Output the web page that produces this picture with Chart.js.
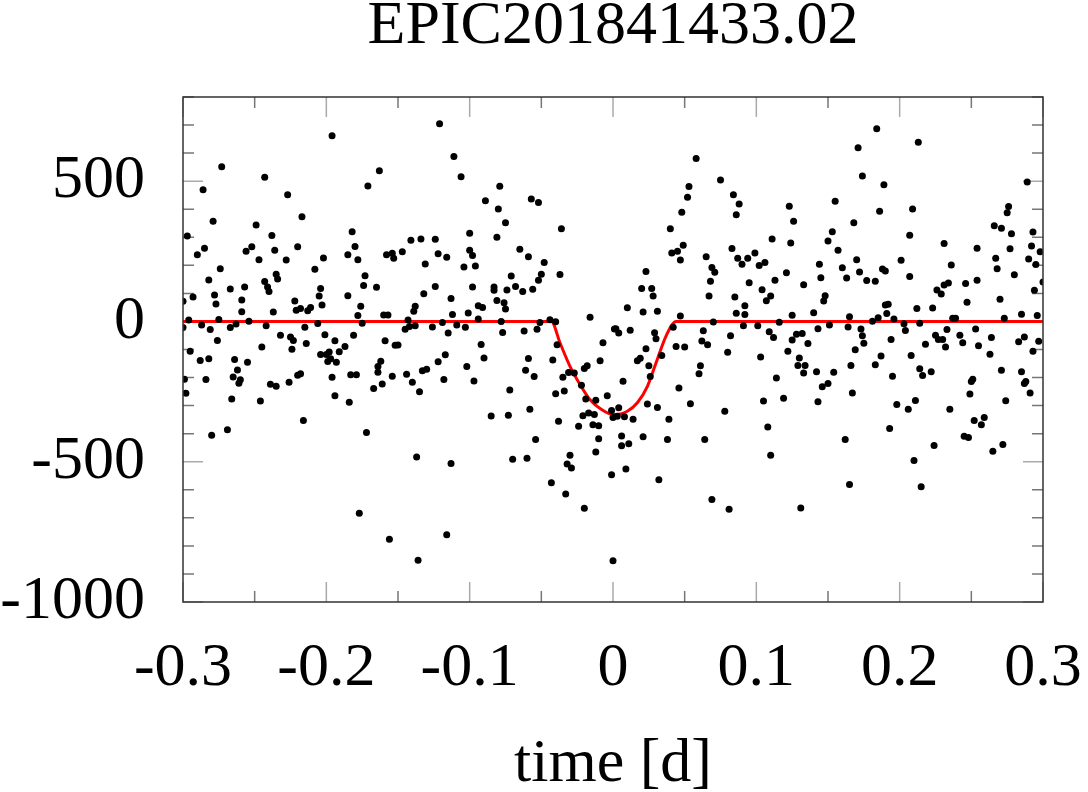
<!DOCTYPE html>
<html>
<head>
<meta charset="utf-8">
<script src="https://cdn.jsdelivr.net/npm/chart.js@4.4.1/dist/chart.umd.min.js"></script>
<style>
  html, body { margin: 0; padding: 0; background: #fff; }
  #wrap { width: 1088px; height: 792px; }
</style>
</head>
<body>
<div id="wrap"><canvas id="lc"></canvas></div>
<script>
// --- Data ---
const chartTitle = 'EPIC201841433.02';
const xLabel = 'time [d]';

const xTickValues = [-0.3, -0.2, -0.1, 0, 0.1, 0.2, 0.3];
const yTickValues = [-1000, -500, 0, 500];

// observed points: time [d] and flux
const obsTime = [
    // -0.30 .. -0.15, upper half
    -0.196, -0.273, -0.163, -0.243, -0.286, -0.171, -0.227, -0.217, -0.279, -0.249,
    -0.297, -0.182, -0.238, -0.285, -0.290, -0.252, -0.256, -0.236, -0.220, -0.180,
    -0.247, -0.228, -0.202, -0.185, -0.178, -0.158, -0.154, -0.153, -0.274, -0.208,
    -0.173, -0.282, -0.235, -0.234, -0.243, -0.267, -0.257, -0.241, -0.240, -0.204,
    -0.174, -0.165, -0.293, -0.278, -0.300, -0.277, -0.259, -0.205, -0.185, -0.222,
    -0.203, -0.176, -0.259, -0.237, -0.221, -0.218, -0.213, -0.211, -0.178, -0.160,
    -0.157, -0.296, -0.275, -0.254, -0.300, -0.287, -0.267, -0.263, -0.242, -0.206,
    -0.175, -0.281, -0.215, -0.232, -0.225, -0.223, -0.201, -0.181, -0.276, -0.194,
    -0.214, -0.187, -0.159, -0.152, -0.150, -0.245, -0.224,
    // -0.30 .. -0.15, lower half
    -0.295, -0.299, -0.298, -0.288, -0.282, -0.284, -0.264, -0.262, -0.265, -0.260,
    -0.261, -0.255, -0.266, -0.246, -0.239, -0.235, -0.226, -0.220, -0.218, -0.216,
    -0.204, -0.200, -0.198, -0.197, -0.199, -0.193, -0.191, -0.196, -0.194, -0.184,
    -0.183, -0.179, -0.164, -0.164, -0.162, -0.167, -0.161, -0.154, -0.280, -0.269,
    -0.172, -0.177, -0.156,
    // -0.15 .. 0, upper half
    -0.121, -0.111, -0.106, -0.079, -0.089, -0.080, -0.057, -0.052, -0.075, -0.036,
    -0.100, -0.081, -0.141, -0.134, -0.124, -0.147, -0.122, -0.116, -0.100, -0.098,
    -0.131, -0.104, -0.096, -0.065, -0.059, -0.048, -0.050, -0.052, -0.071, -0.037,
    -0.124, -0.098, -0.083, -0.083, -0.074, -0.068, -0.063, -0.056, -0.132, -0.113,
    -0.081, -0.076, -0.075, -0.138, -0.139, -0.094, -0.091, -0.112, -0.101, -0.094,
    -0.143, -0.145, -0.142, -0.138, -0.126, -0.119, -0.109, -0.103, -0.078, -0.044,
    -0.040, -0.051, -0.053, -0.062, -0.077, -0.115, -0.016, 0.001, -0.092, -0.039,
    -0.007,
    // -0.15 .. 0, lower half
    -0.144, -0.140, -0.135, -0.133, -0.130, -0.122, -0.117, -0.118, -0.102, -0.097,
    -0.090, -0.072, -0.061, -0.059, -0.055, -0.042, -0.035, -0.031, -0.027, -0.034,
    -0.040, -0.020, -0.018, -0.009, -0.022, -0.019, -0.012, -0.004, -0.001, 0.000,
    -0.021, -0.017, -0.013, -0.014, -0.010, -0.024, -0.038, -0.058, -0.073, -0.085,
    -0.054, -0.010, -0.012, -0.030, -0.032, -0.029, -0.070, -0.060, -0.137, -0.113,
    -0.043, -0.033, -0.001, -0.020, -0.116, -0.136, 0.000,
    // 0 .. 0.15, upper half
    0.058, 0.075, 0.053, 0.052, 0.048, 0.084, 0.088, 0.086, 0.040, 0.123,
    0.126, 0.111, 0.124, 0.049, 0.041, 0.045, 0.047, 0.083, 0.065, 0.087,
    0.094, 0.090, 0.099, 0.102, 0.106, 0.069, 0.071, 0.023, 0.068, 0.095,
    0.113, 0.121, 0.144, 0.145, 0.133, 0.020, 0.027, 0.028, 0.067, 0.104,
    0.110, 0.107, 0.085, 0.148, 0.147, 0.092, 0.010, 0.021, 0.031, 0.047,
    0.086, 0.092, 0.125, 0.140, 0.002, 0.004, 0.012, 0.029, 0.030, 0.042,
    0.063, 0.070, 0.091, 0.101, 0.116, 0.109, 0.112, 0.082, 0.125, 0.128,
    0.132, 0.143, 0.136, 0.023, 0.044, 0.050, 0.062, 0.066,
    // 0 .. 0.15, lower half
    0.080, 0.103, 0.122, 0.130, 0.129, 0.134, 0.133, 0.142, 0.146, 0.150,
    0.143, 0.119, 0.105, 0.114, 0.108, 0.110, 0.131, 0.078, 0.064, 0.069,
    0.081, 0.054, 0.046, 0.039, 0.038, 0.031, 0.024, 0.032, 0.021, 0.034,
    0.025, 0.026, 0.017, 0.019, 0.007, 0.004, 0.003, 0.008, 0.014, 0.006,
    0.006, 0.011, 0.009, 0.061, 0.060,
    // 0.15 .. 0.30, upper half
    0.184, 0.213, 0.171, 0.174, 0.189, 0.289, 0.155, 0.186, 0.209, 0.168,
    0.276, 0.275, 0.266, 0.271, 0.278, 0.293, 0.153, 0.150, 0.207, 0.157,
    0.231, 0.254, 0.277, 0.292, 0.298, 0.170, 0.201, 0.267, 0.290, 0.295,
    0.160, 0.172, 0.188, 0.190, 0.236, 0.268, 0.163, 0.177, 0.183, 0.207,
    0.280, 0.231, 0.234, 0.246, 0.254, 0.300, 0.226, 0.229, 0.294, 0.247,
    0.270, 0.190, 0.192, 0.212, 0.223, 0.191, 0.165, 0.151, 0.164, 0.185,
    0.181, 0.196, 0.203, 0.214, 0.237, 0.239, 0.273, 0.285, 0.296, 0.173,
    0.174, 0.175, 0.194, 0.204, 0.218, 0.225, 0.227, 0.230, 0.233, 0.242,
    0.244, 0.253, 0.255, 0.264, 0.283, 0.287, 0.297, 0.232,
    // 0.15 .. 0.30, lower half
    0.169, 0.154, 0.166, 0.167, 0.183, 0.187, 0.195, 0.208, 0.214, 0.216,
    0.222, 0.198, 0.206, 0.211, 0.235, 0.193, 0.162, 0.165, 0.210, 0.215,
    0.224, 0.250, 0.251, 0.249, 0.252, 0.257, 0.259, 0.245, 0.248, 0.265,
    0.272, 0.274, 0.263, 0.271, 0.285, 0.287, 0.288, 0.291, 0.293
];

const obsFlux = [
    662, 551, 537, 514, 469, 483, 452, 373, 357, 344,
    305, 320, 306, 261, 238, 266, 250, 254, 266, 267,
    220, 219, 226, 238, 220, 238, 243, 225, 188, 186,
    163, 148, 168, 151, 142, 116, 123, 123, 107, 117,
    128, 122, 87, 94, 72, 62, 76, 91, 92, 73,
    59, 54, 35, 34, 40, 46, 38, 50, 21, 23,
    23, 5, 7, 1, -22, -13, -22, -9, -15, -7,
    -6, -29, -21, -49, -55, -68, -47, -49, -68, -69,
    -79, -89, -69, -85, -84, -91, -99,

    -106, -206, -256, -139, -133, -207, -136, -173, -198, -208,
    -220, -145, -276, -284, -224, -231, -217, -192, -186, -353,
    -118, -118, -109, -133, -143, -145, -108, -199, -265, -288,
    -190, -190, -181, -161, -142, -239, -223, -195, -406, -386,
    -396, -684, -776,

    705, 588, 516, 482, 430, 401, 436, 424, 352, 330,
    314, 300, 289, 294, 293, 248, 241, 229, 254, 235,
    205, 194, 198, 257, 231, 210, 168, 147, 162, 167,
    125, 123, 123, 111, 112, 125, 107, 115, 99, 82,
    75, 67, 44, 54, 36, 56, 50, 25, 30, 9,
    5, -28, -18, -15, -20, -4, -13, -21, 0, 6,
    -1, -4, -28, -34, -39, -41, 15, -27, -82, -83,
    -76,

    -188, -217, -251, -176, -170, -144, -119, -207, -161, -212,
    -130, -244, -174, -132, -196, -137, -199, -182, -184, -248,
    -258, -168, -158, -140, -227, -276, -281, -265, -317, -342,
    -336, -326, -332, -368, -372, -374, -356, -313, -334, -337,
    -421, -418, -465, -477, -508, -522, -491, -488, -483, -506,
    -575, -615, -546, -666, -760, -851, -853,

    581, 504, 481, 443, 389, 452, 419, 380, 330, 411,
    357, 294, 280, 272, 244, 250, 219, 260, 231, 225,
    225, 204, 244, 199, 210, 192, 175, 178, 143, 138,
    147, 174, 204, 156, 131, 117, 117, 91, 91, 113,
    91, 74, 87, 92, 73, 56, 49, 34, 36, 19,
    29, 25, 22, 31, -26, -41, -31, -40, -62, -21,
    -33, -2, -15, -15, -3, -37, -57, -51, -66, -46,
    -43, -26, -79, -97, -89, -91, -70, -83,

    -110, -127, -106, -130, -157, -157, -184, -179, -233, -221,
    -286, -274, -284, -202, -376, -477, -665, -320, -421, -635,
    -669, -293, -237, -349, -421, -307, -294, -564, -411, -121,
    -158, -196, -140, -131, -213, -308, -338, -340, -349, -408,
    -443, -436, -526, -158, -186,

    687, 639, 619, 518, 487, 497, 428, 393, 401, 352,
    410, 387, 341, 332, 313, 319, 320, 287, 307, 254,
    278, 261, 259, 269, 248, 220, 218, 225, 223, 203,
    191, 176, 187, 180, 201, 188, 155, 146, 143, 160,
    166, 130, 137, 135, 147, 141, 112, 98, 111, 68,
    79, 59, 61, 46, 48, 28, 17, -13, -20, 13,
    1, 9, -8, -6, 11, 11, 11, 26, 21, -27,
    -51, -78, -64, -32, -81, -49, -64, -64, -29, -49,
    -76, -27, -87, -57, -72, -55, -71, -91,

    -101, -181, -157, -255, -154, -123, -195, -121, -169, -193,
    -179, -296, -313, -282, -313, -382, -421, -581, -496, -589,
    -442, -214, -206, -259, -353, -368, -342, -409, -414, -463,
    -439, -283, -117, -174, -179, -221, -214, -255, -106
];

// transit model (red curve)
const modelTime = [-0.3, -0.043, -0.037, -0.030, -0.023, -0.016, -0.008, 0.000, 0.010, 0.017, 0.024, 0.030, 0.037, 0.044, 0.3];
const modelFlux = [0, 0, -76, -160, -225, -279, -314, -332, -320, -290, -231, -148, -52, 0, 0];

// --- Chart Config ---
const SERIF = "'Liberation Serif', 'Times New Roman', serif";
Chart.defaults.font.family = SERIF;
Chart.defaults.color = '#000';

// inward ticks on all four sides + frame; title centred over the plot box
const frameTicks = {
    id: 'frameTicks',
    afterLayout(chart) {
        const t = chart.titleBlock;
        if (t) {
            t.left = chart.chartArea.left;
            t.right = chart.chartArea.right;
            t.width = t.right - t.left;
        }
    },
    beforeDatasetsDraw(chart) {
        const { ctx, chartArea: a, scales: { x, y } } = chart;
        ctx.save();
        ctx.lineWidth = 1.5;
        for (let i = -6; i <= 6; i++) {
            const px = x.getPixelForValue(i * 0.05);
            const major = i % 2 === 0;
            const len = major ? 20 : 11;
            ctx.strokeStyle = major ? '#aaa' : '#777';
            ctx.beginPath();
            ctx.moveTo(px, a.top); ctx.lineTo(px, a.top + len);
            ctx.moveTo(px, a.bottom); ctx.lineTo(px, a.bottom - len);
            ctx.stroke();
        }
        for (let v = -1000; v <= 800; v += 100) {
            const py = y.getPixelForValue(v);
            const major = v % 500 === 0;
            const len = major ? 20 : 11;
            ctx.strokeStyle = major ? '#aaa' : '#777';
            ctx.beginPath();
            ctx.moveTo(a.left, py); ctx.lineTo(a.left + len, py);
            ctx.moveTo(a.right, py); ctx.lineTo(a.right - len, py);
            ctx.stroke();
        }
        ctx.restore();
    },
    afterDatasetsDraw(chart) {
        const { ctx, chartArea: a } = chart;
        ctx.save();
        ctx.strokeStyle = '#333';
        ctx.lineWidth = 1.5;
        ctx.strokeRect(a.left, a.top, a.right - a.left, a.bottom - a.top);
        ctx.restore();
    }
};

const ctx = document.getElementById('lc').getContext('2d');
new Chart(ctx, {
    type: 'scatter',
    data: {
        datasets: [
            {
                label: 'data',
                data: obsTime.map((t, i) => ({ x: t, y: obsFlux[i] })),
                backgroundColor: '#000',
                borderWidth: 0,
                pointRadius: 3.5,
                order: 0
            },
            {
                type: 'line',
                label: 'model',
                data: modelTime.map((t, i) => ({ x: t, y: modelFlux[i] })),
                borderColor: '#ff0000',
                borderWidth: 3,
                pointRadius: 0,
                fill: false,
                cubicInterpolationMode: 'monotone',
                order: 1
            }
        ]
    },
    options: {
        responsive: true,
        maintainAspectRatio: false,
        animation: false,
        layout: { padding: { left: 0, right: 45, top: 0, bottom: 0 } },
        plugins: {
            legend: { display: false },
            tooltip: { enabled: false },
            title: {
                display: true,
                text: chartTitle,
                color: '#000',
                font: { size: 62, weight: 'normal', lineHeight: 0.7 },
                padding: { top: 5, bottom: 48.6 }
            }
        },
        scales: {
            x: {
                type: 'linear',
                min: -0.3,
                max: 0.3,
                afterBuildTicks: s => { s.ticks = xTickValues.map(v => ({ value: v })); },
                afterFit: s => { s.height = 190; s.paddingLeft = 0; s.paddingRight = 0; },
                grid: { display: false, drawTicks: false },
                border: { display: false },
                ticks: {
                    autoSkip: false,
                    maxRotation: 0,
                    padding: 36,
                    color: '#000',
                    font: { size: 62, lineHeight: 1 },
                    callback: v => String(v)
                },
                title: {
                    display: true,
                    text: xLabel,
                    color: '#000',
                    font: { size: 62, lineHeight: 0.88 },
                    padding: { top: 0, bottom: 0 }
                }
            },
            y: {
                min: -1000,
                max: 800,
                afterBuildTicks: s => { s.ticks = yTickValues.map(v => ({ value: v })); },
                afterFit: s => { s.width = 183; },
                grid: { display: false, drawTicks: false },
                border: { display: false },
                ticks: {
                    autoSkip: false,
                    padding: 38,
                    color: '#000',
                    font: { size: 62, lineHeight: 1 },
                    callback: v => String(v)
                }
            }
        }
    },
    plugins: [frameTicks]
});
</script>
</body>
</html>
